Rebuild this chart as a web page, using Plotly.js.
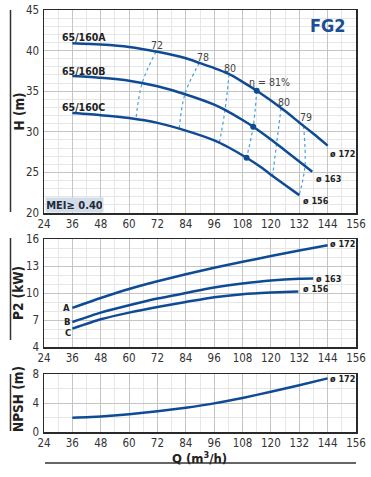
<!DOCTYPE html>
<html><head><meta charset="utf-8">
<script src="https://cdn.plot.ly/plotly-3.0.1.min.js"></script>
<style>html,body{margin:0;padding:0;background:#fff}#g{width:371px;height:477px}</style>
</head><body><div id="g"></div>
<script>
// ---- H (m) curves ----
const Q_A = [36,48,60,72,84,90,96,102,108,114,120,126,132,138,144];
const H_A = [40.9,40.75,40.45,39.85,39.05,38.45,37.85,37.15,36.15,35.06,33.85,32.55,31.15,29.75,28.3];
const Q_B = [36,48,60,72,84,96,100.6,108,112.5,120,126,132,137.5];
const H_B = [36.87,36.65,36.3,35.6,34.6,33.35,32.7,31.45,30.62,29.05,27.7,26.35,25.08];
const Q_C = [36,48,60,72,84,96,102,109.7,116,121,126,132];
const H_C = [32.3,32.05,31.7,31.1,30.15,28.95,28.1,26.8,25.6,24.5,23.45,22.2];
// efficiency iso-lines (A, B, C crossings)
const effLabels = ["72","78","80","η = 81%","80","79"];
const effQ = [[71.4,65.5,62.9],[89.7,83.6,81.2],[102.3,100.6,98.2],[114,112.5,109.7],[124.3,122.4,120.7],[133.8,134.4,132]];
const effH = [[39.88,35.98,31.55],[38.48,34.63,30.37],[37.1,32.7,28.64],[35.06,30.62,26.8],[32.92,28.51,24.57],[30.73,25.8,22.2]];
const effLabelQ = [72,91.4,102.7,119.3,125.7,134.8];
const effLabelH = [40.75,39.25,37.8,36.1,33.7,31.8];
// ---- P2 (kW) ----
const Q_PA = [36,48,60,72,84,96,108,120,132,144];
const P_A = [8.34,9.45,10.45,11.3,12.08,12.8,13.47,14.1,14.72,15.3];
const Q_PB = [36,48,60,72,84,96,108,120,132,137.9];
const P_B = [6.78,7.82,8.64,9.38,10.0,10.6,11.05,11.4,11.58,11.6];
const Q_PC = [36,48,60,72,84,96,108,120,131.6];
const P_C = [6.04,7.08,7.82,8.45,9.0,9.53,9.87,10.05,10.17];
// ---- NPSH (m) ----
const Q_N = [36,48,60,72,84,96,108,120,132,144];
const NPSH = [1.98,2.15,2.45,2.85,3.35,3.95,4.7,5.55,6.45,7.4];

const xTicks = [24,36,48,60,72,84,96,108,120,132,144,156];
const W=371,Hh=477;
const BLUE='#0f4b95', DOT='#45a0e2', FONT='Liberation Sans Narrow, DejaVu Sans Condensed, Arial Narrow, sans-serif';
const px=v=>v/W, py=v=>1-v/Hh;

const traces=[];
function line(x,y,xa,ya){traces.push({x,y,xaxis:xa,yaxis:ya,mode:'lines',line:{color:BLUE,width:2.5,shape:'spline',smoothing:0.6},hoverinfo:'skip',showlegend:false});}
effQ.forEach((q,i)=>{
  traces.push({x:q,y:effH[i],xaxis:'x',yaxis:'y',mode:'lines',
    line:{color:DOT,width:1.2,dash:'dot',shape:'spline'},showlegend:false,hoverinfo:'skip'});
});
line(Q_A,H_A,'x','y');line(Q_B,H_B,'x','y');line(Q_C,H_C,'x','y');
traces.push({x:effQ[3],y:effH[3],xaxis:'x',yaxis:'y',mode:'markers',marker:{color:BLUE,size:6},showlegend:false,hoverinfo:'skip'});
line(Q_PA,P_A,'x2','y2');line(Q_PB,P_B,'x2','y2');line(Q_PC,P_C,'x2','y2');
line(Q_N,NPSH,'x3','y3');

function xa(anchor){return {domain:[px(44),px(356)],anchor,range:[24,156],tickvals:xTicks,ticks:'',showgrid:true,gridcolor:'#c4c4c4',gridwidth:1,
  minor:{dtick:6,tick0:24,showgrid:true,gridcolor:'#e6e6e6',gridwidth:1},showline:true,mirror:true,linecolor:'#2a2a2a',linewidth:1.5,zeroline:false,
  tickfont:{family:FONT,size:11.5,color:'#333'},ticklabelstandoff:0,fixedrange:true};}
function ya(anchor,d,r,t0,mdt,tv){return {domain:d,anchor,range:r,tickvals:tv,ticks:'',showgrid:true,gridcolor:'#c4c4c4',gridwidth:1,
  minor:{dtick:mdt,tick0:t0,showgrid:true,gridcolor:'#e6e6e6',gridwidth:1},showline:true,mirror:true,linecolor:'#2a2a2a',linewidth:1.5,zeroline:false,
  tickfont:{family:FONT,size:11.5,color:'#333'},ticklabelstandoff:1,fixedrange:true};}

const ann=[];
function A(o){ann.push(Object.assign({showarrow:false,xanchor:'center',yanchor:'middle',font:{family:FONT,size:10,color:'#333'}},o));}
effLabels.forEach((t,i)=>A({x:effLabelQ[i],y:effLabelH[i],xref:'x',yref:'y',text:t,font:{family:FONT,size:10.5,color:'#444'}}));
const bold=(s,c)=>({family:FONT,size:s,color:c||'#222'});
A({x:30.8,y:41.7,xref:'x',yref:'y',xanchor:'left',text:'<b>65/160A</b>',font:bold(10.5)});
A({x:30.8,y:37.45,xref:'x',yref:'y',xanchor:'left',text:'<b>65/160B</b>',font:bold(10.5)});
A({x:30.8,y:33.05,xref:'x',yref:'y',xanchor:'left',text:'<b>65/160C</b>',font:bold(10.5)});
A({x:144.2,y:27.3,xref:'x',yref:'y',xanchor:'left',text:'<b>ø 172</b>',font:bold(9)});
A({x:138.2,y:24.2,xref:'x',yref:'y',xanchor:'left',text:'<b>ø 163</b>',font:bold(9)});
A({x:132.9,y:21.5,xref:'x',yref:'y',xanchor:'left',text:'<b>ø 156</b>',font:bold(9)});
A({x:px(348),y:py(26),xref:'paper',yref:'paper',xanchor:'right',text:'<b>FG2</b>',font:bold(18,'#1a4f94')});
A({x:px(45),y:py(196.5),xref:'paper',yref:'paper',xanchor:'left',yanchor:'top',text:'<b>MEI≥ 0.40</b>',font:bold(11,'#1e2a3a'),
   bgcolor:'#d3dde8',width:55,height:12,borderpad:1});
// P2 labels
A({x:33.6,y:8.4,xref:'x2',yref:'y2',text:'<b>A</b>',font:bold(9.5)});
A({x:33.8,y:6.8,xref:'x2',yref:'y2',text:'<b>B</b>',font:bold(9.5)});
A({x:34.0,y:5.62,xref:'x2',yref:'y2',text:'<b>C</b>',font:bold(9.5)});
A({x:144.2,y:15.4,xref:'x2',yref:'y2',xanchor:'left',text:'<b>ø 172</b>',font:bold(9)});
A({x:138.2,y:11.6,xref:'x2',yref:'y2',xanchor:'left',text:'<b>ø 163</b>',font:bold(9)});
A({x:132.6,y:10.4,xref:'x2',yref:'y2',xanchor:'left',text:'<b>ø 156</b>',font:bold(9)});
A({x:144.2,y:7.3,xref:'x3',yref:'y3',xanchor:'left',text:'<b>ø 172</b>',font:bold(9)});
// axis titles
A({x:px(18.5),y:py(112),xref:'paper',yref:'paper',textangle:-90,text:'<b>H (m)</b>',font:bold(13.5)});
A({x:px(18),y:py(293),xref:'paper',yref:'paper',textangle:-90,text:'<b>P2 (kW)</b>',font:bold(13.5)});
A({x:px(18),y:py(399),xref:'paper',yref:'paper',textangle:-90,text:'<b>NPSH (m)</b>',font:bold(13.5)});
A({x:px(200),y:py(448),xref:'paper',yref:'paper',yanchor:'top',text:'<b>Q (m<sup>3</sup>/h)</b>',font:bold(13)});

const shp=[];
function L(x0,y0,x1,y1){shp.push({type:'line',xref:'paper',yref:'paper',x0:px(x0),y0:py(y0),x1:px(x1),y1:py(y1),line:{color:'#333',width:1.5}});}
L(10.5,10,10.5,212);L(10.5,238,10.5,340);L(10.5,374,10.5,431);L(45,463,356,463);

const layout={width:W,height:Hh,margin:{l:0,r:0,t:0,b:0},paper_bgcolor:'#fff',plot_bgcolor:'#fff',showlegend:false,
  font:{family:FONT},
  xaxis:xa('y'),xaxis2:xa('y2'),xaxis3:xa('y3'),
  yaxis:ya('x',[py(213),py(10)],[20,45],20,1,[20,25,30,35,40,45]),
  yaxis2:ya('x2',[py(347),py(239)],[4,16],4,1,[4,7,10,13,16]),
  yaxis3:ya('x3',[py(432),py(374)],[0,8],0,2,[0,4,8]),
  annotations:ann,shapes:shp};
Plotly.newPlot('g',traces,layout,{staticPlot:true,displayModeBar:false});
</script></body></html>
